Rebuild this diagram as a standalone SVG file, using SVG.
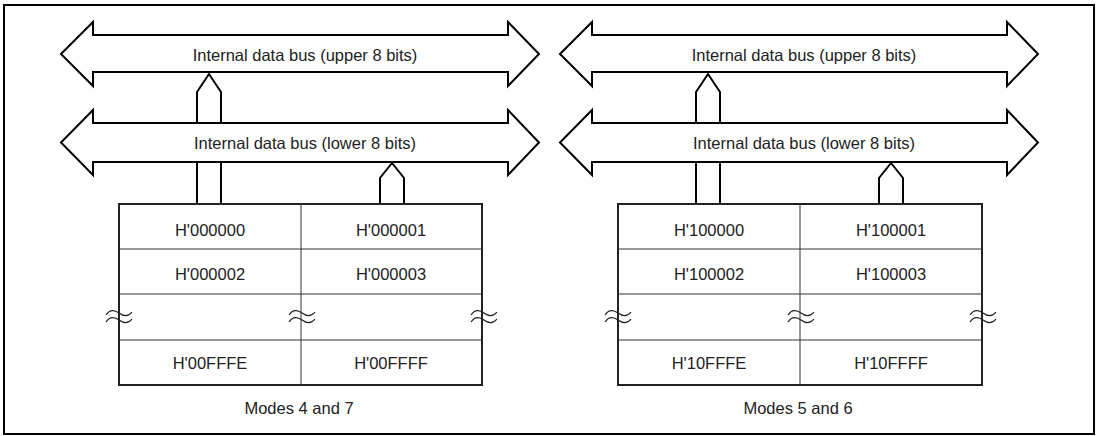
<svg xmlns="http://www.w3.org/2000/svg" xmlns:xlink="http://www.w3.org/1999/xlink" width="1100" height="436" viewBox="0 0 1100 436">
<style>
.bus{fill:#fff;stroke:#000;stroke-width:2;stroke-linejoin:miter}
.stub{fill:none;stroke:#000;stroke-width:2;stroke-linejoin:miter}
.outer{fill:#fff;stroke:#222;stroke-width:2}
.grid{stroke:#333;stroke-width:1;fill:none}
.sq{fill:none;stroke:#222;stroke-width:1.2}
text{font-family:"Liberation Sans",Arial,Helvetica,sans-serif;font-size:16.5px;fill:#222;text-anchor:middle}
</style>
<defs>
<path id="sq" d="M-13,-1 C-9,-7 -4,-6 0,-3 S9,1 13,-4 M-13,6 C-9,0 -4,1 0,4 S9,8 13,3"/>
</defs>
<rect x="4" y="5" width="1090" height="429" fill="#fff" stroke="#000" stroke-width="2"/>

<g id="bus-upper-left">
<polygon class="bus" points="61,54 93,22 93,35 508,35 508,22 539,54 508,86 508,72 93,72 93,86"/>
<text x="305" y="61">Internal data bus (upper 8 bits)</text>
</g>
<g id="bus-lower-left">
<polygon class="bus" points="61,142.5 93,110 93,123 508,123 508,110 539,142.5 508,175 508,162 93,162 93,175"/>
<text x="305" y="149">Internal data bus (lower 8 bits)</text>
</g>
<g id="memory-left">
<rect class="outer" x="119" y="204" width="363" height="181"/>
<path class="grid" d="M301,204 V385 M119,249 H482 M119,294 H482 M119,340 H482"/>
<text x="210" y="236">H'000000</text>
<text x="391" y="236">H'000001</text>
<text x="210" y="280">H'000002</text>
<text x="391" y="280">H'000003</text>
<text x="210" y="369">H'00FFFE</text>
<text x="391" y="369">H'00FFFF</text>
<use xlink:href="#sq" href="#sq" class="sq" x="119" y="316"/>
<use xlink:href="#sq" href="#sq" class="sq" x="302" y="316"/>
<use xlink:href="#sq" href="#sq" class="sq" x="484" y="316"/>
</g>
<g id="label-left"><text x="299" y="414">Modes 4 and 7</text></g>

<g id="bus-upper-right">
<polygon class="bus" points="560,54 592,22 592,35 1007,35 1007,22 1038,54 1007,86 1007,72 592,72 592,86"/>
<text x="804" y="61">Internal data bus (upper 8 bits)</text>
</g>
<g id="bus-lower-right">
<polygon class="bus" points="560,142.5 592,110 592,123 1007,123 1007,110 1038,142.5 1007,175 1007,162 592,162 592,175"/>
<text x="804" y="149">Internal data bus (lower 8 bits)</text>
</g>
<g id="memory-right">
<rect class="outer" x="618" y="204" width="364" height="181"/>
<path class="grid" d="M800,204 V385 M618,249 H982 M618,294 H982 M618,340 H982"/>
<text x="709" y="236">H'100000</text>
<text x="891" y="236">H'100001</text>
<text x="709" y="280">H'100002</text>
<text x="891" y="280">H'100003</text>
<text x="709" y="369">H'10FFFE</text>
<text x="891" y="369">H'10FFFF</text>
<use xlink:href="#sq" href="#sq" class="sq" x="618" y="316"/>
<use xlink:href="#sq" href="#sq" class="sq" x="801" y="316"/>
<use xlink:href="#sq" href="#sq" class="sq" x="983" y="316"/>
</g>
<g id="label-right"><text x="798" y="414">Modes 5 and 6</text></g>

<g id="connectors">
<path class="stub" d="M197,123 V92 L209,74 L221,92 V123"/>
<path class="stub" d="M197,204 V162 M221,162 V204"/>
<path class="stub" d="M380,204 V178 L392,163 L404,178 V204"/>
<path class="stub" d="M696,123 V92 L708,74 L720,92 V123"/>
<path class="stub" d="M696,204 V162 M720,162 V204"/>
<path class="stub" d="M879,204 V178 L891,163 L903,178 V204"/>
</g>
</svg>
